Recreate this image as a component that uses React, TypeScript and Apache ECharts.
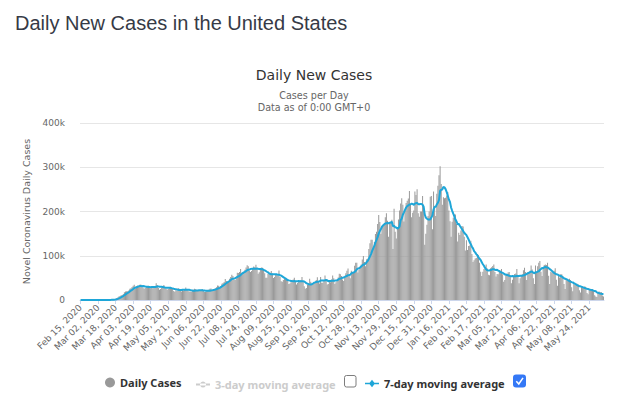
import React, { useEffect, useRef } from "react";
import * as echarts from "echarts";

// Daily new cases, in thousands (first day: Feb 15, 2020)
const feb2020 = [0, 0, 0, 0, 0, 0, 0, 0, 0, 0.02, 0, 0.01, 0, 0, 0.01];
const mar2020 = [0.01, 0.02, 0.02, 0.03, 0.07, 0.08, 0.1, 0.12, 0.18, 0.29, 0.28, 0.42, 0.57, 0.65, 0.77, 1.3, 1.8, 2.9, 4.8, 5.7, 7.7, 9.2, 10.9, 11.2, 13.3, 17.6, 19.1, 19.6, 19.6, 21.5, 25.2];
const apr2020 = [26.5, 29.3, 32.1, 34.2, 25.3, 29.6, 32.0, 32.4, 34.5, 35.1, 30.1, 28.0, 25.5, 27.3, 30.2, 31.7, 32.1, 29.9, 26.4, 28.1, 26.7, 29.2, 31.9, 38.1, 34.1, 27.4, 23.0, 25.1, 28.5, 30.2];
const may2020 = [34.0, 29.1, 25.5, 23.2, 24.9, 28.4, 29.2, 27.8, 25.1, 20.4, 18.6, 22.1, 21.0, 27.2, 25.4, 23.9, 19.2, 22.5, 21.3, 23.1, 28.1, 24.2, 22.1, 19.4, 19.1, 18.4, 20.3, 23.1, 25.3, 24.1, 20.1];
const jun2020 = [20.4, 21.1, 20.2, 21.9, 25.0, 22.3, 18.1, 17.9, 19.9, 21.0, 23.3, 25.4, 25.9, 20.3, 21.1, 24.0, 26.3, 28.9, 32.9, 32.4, 26.1, 31.9, 36.9, 38.4, 40.9, 47.3, 43.2, 40.4, 42.2, 48.2];
const jul2020 = [52.1, 57.2, 54.4, 46.5, 45.2, 49.3, 61.4, 61.2, 63.3, 70.1, 61.3, 58.2, 62.1, 68.5, 73.5, 78.5, 76.5, 66.5, 63.5, 65.5, 70.5, 75.5, 74.5, 79.5, 69.5, 59.5, 62.5, 69.0, 73.5, 73.0, 70.0];
const aug2020 = [60.5, 50.5, 50.5, 59.0, 59.5, 61.5, 65.5, 60.0, 50.0, 52.0, 58.0, 59.0, 55.0, 66.5, 52.1, 42.4, 41.2, 45.3, 47.4, 47.1, 48.3, 45.2, 36.1, 37.2, 40.3, 45.1, 46.2, 50.1, 43.2, 35.1, 38.2];
const sep2020 = [43.1, 41.2, 45.3, 52.1, 42.4, 31.3, 25.2, 27.4, 35.2, 37.1, 48.2, 41.3, 35.1, 36.2, 39.3, 41.2, 45.1, 51.2, 43.1, 37.2, 52.1, 39.1, 39.2, 45.3, 55.1, 47.2, 35.3, 36.1, 43.2, 40.3];
const oct2020 = [46.2, 55.1, 49.2, 36.1, 40.3, 44.2, 51.1, 59.2, 58.1, 54.3, 46.2, 43.1, 52.4, 60.2, 66.1, 71.3, 57.2, 49.1, 66.2, 61.3, 63.1, 77.2, 84.1, 84.2, 62.3, 68.1, 75.2, 80.1, 91.3, 99.2, 86.1];
const nov2020 = [76.2, 92.1, 93.2, 115, 128, 136, 136, 116, 131, 149, 154, 172, 192, 176, 150, 166, 170, 170.3, 187.2, 196.1, 179.2, 143.1, 176.2, 174.1, 181.3, 115.2, 206.1, 154.2, 139.1, 161.3];
const dec2020 = [182.1, 202.3, 218.1, 230.2, 215.1, 177.3, 201.2, 219.1, 224.3, 229.1, 246.2, 217.1, 187.2, 197.1, 202.3, 245.2, 237.1, 250.3, 196.2, 188.1, 200.2, 200.1, 235, 205, 125, 150, 170, 190, 200.1, 233.2, 235.1];
const jan2021 = [160, 245, 210, 190, 240, 258, 282, 302, 262, 215, 232, 230, 231, 236, 244, 202, 178, 143, 177, 186, 193, 193, 172, 132, 152, 147, 157, 167, 166, 143, 112];
const feb2021 = [135, 113, 122, 123, 134, 104, 86, 90, 94, 95, 104, 101, 84, 64, 54, 64, 70, 70, 80, 71, 57, 56, 72, 74, 77, 80, 63, 53];
const mar2021 = [59, 58, 67, 66, 70, 58, 41, 45, 57, 58, 62, 63, 54, 38, 46, 55, 59, 60, 70, 52, 38, 49, 56, 58, 67, 73, 63, 45, 62, 63, 66];
const apr2021 = [78, 69, 49, 36, 78, 63, 76, 84, 88, 64, 54, 74, 79, 80, 79, 84, 55, 36, 64, 62, 62, 66, 72, 46, 32, 55, 51, 58, 58, 54];
const may2021 = [36, 25, 48, 43, 45, 48, 45, 29, 20, 36, 34, 35, 37, 35, 22, 17, 29, 28, 28, 31, 28, 16, 13, 24, 23, 25, 25, 22, 11, 8, 7];
const jun2021 = [16, 19, 18, 18, 10, 8];

const dailyCases = [
  ...feb2020, ...mar2020, ...apr2020, ...may2020, ...jun2020, ...jul2020,
  ...aug2020, ...sep2020, ...oct2020, ...nov2020, ...dec2020,
  ...jan2021, ...feb2021, ...mar2021, ...apr2021, ...may2021, ...jun2021,
];

const yTickValues = [0, 100, 200, 300, 400]; // thousands
const MONTHS = ["Jan", "Feb", "Mar", "Apr", "May", "Jun", "Jul", "Aug", "Sep", "Oct", "Nov", "Dec"];

const categories = dailyCases.map((_, i) => {
  const d = new Date(Date.UTC(2020, 1, 15 + i));
  return `${MONTHS[d.getUTCMonth()]} ${String(d.getUTCDate()).padStart(2, "0")}, ${d.getUTCFullYear()}`;
});

function movingAverage(values: number[], n: number): number[] {
  return values.map((_, i) => {
    const w = values.slice(Math.max(0, i - n + 1), i + 1);
    return +(w.reduce((a, b) => a + b, 0) / w.length).toFixed(2);
  });
}

const avg3 = movingAverage(dailyCases, 3);
const avg7 = movingAverage(dailyCases, 7);

const LINE_BLUE = "#1ea6d8";
const CHART_FONT = "DejaVu Sans";

export default function App() {
  const ref = useRef<HTMLDivElement>(null);
  useEffect(() => {
    if (!ref.current) return;
    const chart = echarts.init(ref.current, undefined, { renderer: "svg" });
    const legendText = { fontFamily: "Noto Sans", fontWeight: "bold" as const, fontSize: 11, color: "#333333" };
    chart.setOption({
      animation: false,
      backgroundColor: "#ffffff",
      title: [
        {
          text: "Daily New Cases in the United States",
          left: 15,
          top: 13,
          padding: 0,
          textStyle: { fontFamily: "Liberation Sans", fontSize: 20, fontWeight: "normal", color: "#363a46" },
        },
        {
          text: "Daily New Cases",
          left: 314,
          top: 68,
          padding: 0,
          textAlign: "center",
          textStyle: { fontFamily: CHART_FONT, fontSize: 14, fontWeight: "normal", color: "#333333" },
          subtext: "Cases per Day\nData as of 0:00 GMT+0",
          itemGap: 7,
          subtextStyle: { fontFamily: CHART_FONT, fontSize: 9.6, color: "#666666", lineHeight: 12 },
        },
      ],
      legend: [
        {
          data: [{ name: "Daily Cases", icon: "circle" }],
          left: 100, top: 372, itemWidth: 10, itemHeight: 10,
          textStyle: legendText,
        },
        {
          data: [{ name: "3-day moving average", icon: "path://M0,4h14v2h-14Z M7,2a3,3 0 1,0 0.01,0Z" }],
          left: 191, top: 374, itemWidth: 14, itemHeight: 6,
          textStyle: legendText,
          inactiveColor: "#cccccc",
          selected: { "3-day moving average": false },
        },
        {
          data: [{ name: "7-day moving average", icon: "path://M0,4h14v1.6h-14Z M7,1L10,4.8L7,8.6L4,4.8Z" }],
          left: 360, top: 373, itemWidth: 14, itemHeight: 8,
          textStyle: legendText,
        },
      ],
      graphic: [
        {
          type: "rect",
          shape: { x: 344.5, y: 375.5, width: 11.5, height: 11.5, r: 2 },
          style: { fill: "#ffffff", stroke: "#7d7d7d", lineWidth: 1 },
        },
        {
          type: "rect",
          shape: { x: 513, y: 374.5, width: 13, height: 13, r: 3 },
          style: { fill: "#3478f6" },
        },
        {
          type: "polyline",
          shape: { points: [[516.3, 381.2], [518.8, 384], [523, 377.8]] },
          style: { stroke: "#ffffff", lineWidth: 1.5, fill: "none" },
        },
      ],
      grid: { left: 80, right: 17, top: 123, bottom: 94 },
      xAxis: {
        type: "category",
        data: categories,
        boundaryGap: true,
        axisLine: { lineStyle: { color: "#ccd6eb" } },
        axisTick: { show: true, interval: 15, alignWithLabel: true, length: 4, lineStyle: { color: "#ccd6eb" } },
        axisLabel: {
          interval: 15,
          rotate: 45,
          fontFamily: CHART_FONT,
          fontSize: 9,
          color: "#666666",
          margin: 6,
        },
        splitLine: { show: false },
      },
      yAxis: {
        type: "value",
        min: yTickValues[0],
        max: yTickValues[yTickValues.length - 1],
        interval: yTickValues[1] - yTickValues[0],
        name: "Novel Coronavirus Daily Cases",
        nameLocation: "middle",
        nameGap: 43,
        nameTextStyle: { fontFamily: CHART_FONT, fontSize: 9.5, color: "#666666" },
        axisLine: { show: false },
        axisTick: { show: false },
        axisLabel: {
          fontFamily: CHART_FONT,
          fontSize: 9,
          color: "#666666",
          margin: 15,
          formatter: (v: number) => (v === 0 ? "0" : `${v}k`),
        },
        splitLine: { lineStyle: { color: "#e6e6e6", width: 1 } },
      },
      series: [
        {
          name: "Daily Cases",
          type: "bar",
          data: dailyCases,
          itemStyle: { color: "#999999" },
          barCategoryGap: "15%",
          emphasis: { disabled: true },
        },
        {
          name: "3-day moving average",
          type: "line",
          data: avg3,
          symbol: "none",
          itemStyle: { color: "#cccccc" },
          lineStyle: { color: "#cccccc", width: 2 },
        },
        {
          name: "7-day moving average",
          type: "line",
          data: avg7,
          symbol: "none",
          itemStyle: { color: LINE_BLUE },
          lineStyle: { color: LINE_BLUE, width: 2 },
          emphasis: { disabled: true },
        },
      ],
    });
    return () => chart.dispose();
  }, []);
  return (
    <div
      ref={ref}
      style={{ position: "fixed", left: 0, top: 0, width: 621, height: 394, background: "#ffffff" }}
    />
  );
}
